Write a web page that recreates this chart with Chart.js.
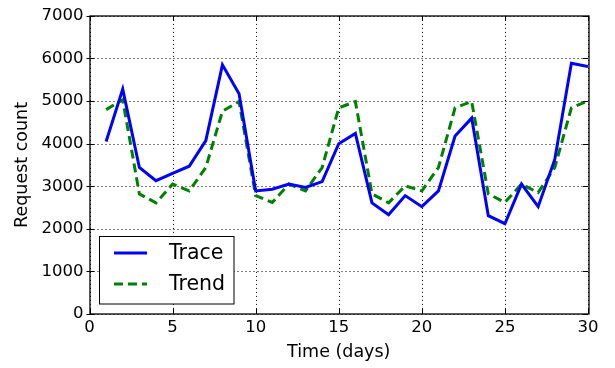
<!DOCTYPE html>
<html>
<head>
<meta charset="utf-8">
<script src="https://cdn.jsdelivr.net/npm/chart.js@4/dist/chart.umd.min.js"></script>
<style>
  html, body { margin: 0; padding: 0; background: #ffffff; }
  #wrap { width: 615px; height: 368px; position: relative; }
</style>
</head>
<body>
<div id="wrap"><canvas id="c" width="615" height="368"></canvas></div>
<script>
const days = [1,2,3,4,5,6,7,8,9,10,11,12,13,14,15,16,17,18,19,20,21,22,23,24,25,26,27,28,29,30];
const traceValues = [4050, 5280, 3440, 3130, 3300, 3470, 4070, 5850, 5170, 2890,
                     2930, 3050, 2970, 3110, 4000, 4240, 2610, 2330, 2780, 2520,
                     2890, 4180, 4600, 2310, 2120, 3050, 2520, 3630, 5890, 5810];
const trendValues = [4800, 5030, 2820, 2610, 3050, 2890, 3440, 4760, 4990, 2780,
                     2620, 3050, 2890, 3440, 4840, 4990, 2820, 2610, 3010, 2890,
                     3440, 4840, 4990, 2820, 2620, 3050, 2850, 3440, 4840, 5010];
const seriesNames = ['Trace', 'Trend'];
const xTitle = 'Time (days)';
const yTitle = 'Request count';

const FONT = "'DejaVu Sans', sans-serif";

const dottedGrid = {
  id: 'dottedGrid',
  beforeDatasetsDraw(chart) {
    const ctx = chart.ctx;
    const a = chart.chartArea;
    const xs = chart.scales.x, ys = chart.scales.y;
    ctx.save();
    ctx.strokeStyle = '#000';
    ctx.lineWidth = 1;
    ctx.setLineDash([1, 3]);
    ctx.beginPath();
    xs.ticks.forEach(t => {
      const px = Math.round(xs.getPixelForValue(t.value)) + 0.5;
      ctx.moveTo(px, a.top); ctx.lineTo(px, a.bottom);
    });
    ys.ticks.forEach(t => {
      const py = Math.round(ys.getPixelForValue(t.value)) + 0.5;
      ctx.moveTo(a.left, py); ctx.lineTo(a.right, py);
    });
    ctx.stroke();
    ctx.restore();
  }
};

const frameAndLegend = {
  id: 'frameAndLegend',
  afterDraw(chart) {
    const ctx = chart.ctx;
    const a = chart.chartArea;
    const xs = chart.scales.x, ys = chart.scales.y;
    ctx.save();
    ctx.strokeStyle = '#000';
    ctx.lineWidth = 1;
    ctx.setLineDash([]);
    ctx.beginPath();
    xs.ticks.forEach(t => {
      const px = Math.round(xs.getPixelForValue(t.value)) + 0.5;
      ctx.moveTo(px, a.bottom); ctx.lineTo(px, a.bottom - 5);
      ctx.moveTo(px, a.top); ctx.lineTo(px, a.top + 5);
    });
    ys.ticks.forEach(t => {
      const py = Math.round(ys.getPixelForValue(t.value)) + 0.5;
      ctx.moveTo(a.left - 3, py); ctx.lineTo(a.left + 5, py);
      ctx.moveTo(a.right, py); ctx.lineTo(a.right - 5, py);
    });
    ctx.stroke();
    ctx.lineWidth = 1.3;
    ctx.strokeRect(Math.round(a.left), Math.round(a.top), Math.round(a.right - a.left), Math.round(a.bottom - a.top));
    // legend
    const bx = 99.5, by = 236.5, bw = 134.5, bh = 67.5;
    ctx.fillStyle = '#fff';
    ctx.fillRect(bx, by, bw, bh);
    ctx.lineWidth = 1;
    ctx.strokeRect(bx, by, bw, bh);
    const rows = [253, 284];
    chart.data.datasets.forEach((ds, i) => {
      const y = rows[i];
      ctx.strokeStyle = ds.borderColor;
      ctx.lineWidth = ds.borderWidth;
      ctx.lineCap = 'butt';
      ctx.setLineDash(ds.borderDash || []);
      ctx.beginPath();
      ctx.moveTo(114, y); ctx.lineTo(147, y);
      ctx.stroke();
      ctx.setLineDash([]);
      ctx.fillStyle = '#000';
      ctx.font = '20.5px ' + FONT;
      ctx.textAlign = 'left';
      ctx.textBaseline = 'middle';
      ctx.fillText(ds.label, 169, y + 1);
    });
    ctx.restore();
  }
};

const ctx = document.getElementById('c').getContext('2d');
new Chart(ctx, {
  type: 'line',
  data: {
    datasets: [
      {
        label: seriesNames[0],
        data: days.map((d, i) => ({ x: d, y: traceValues[i] })),
        borderColor: '#0000ff',
        borderWidth: 3,
        pointRadius: 0,
        tension: 0,
        fill: false
      },
      {
        label: seriesNames[1],
        data: days.map((d, i) => ({ x: d, y: trendValues[i] })),
        borderColor: '#008000',
        borderWidth: 3,
        borderDash: [9, 5],
        pointRadius: 0,
        tension: 0,
        fill: false
      }
    ]
  },
  options: {
    responsive: false,
    animation: false,
    devicePixelRatio: 1,
    layout: { padding: { top: 14, right: 27, left: 0, bottom: 0 } },
    plugins: { legend: { display: false }, tooltip: { enabled: false } },
    scales: {
      x: {
        type: 'linear',
        min: 0, max: 30,
        ticks: { stepSize: 5, color: '#000', font: { family: FONT, size: 16.5 }, padding: 4, maxRotation: 0,
                 callback: v => String(v) },
        grid: { display: false, drawTicks: false },
        border: { display: false },
        title: { display: true, text: xTitle, color: '#000', font: { family: FONT, size: 17.5 }, padding: { top: 0, bottom: 5 } },
        afterFit(s) { s.height = 54; }
      },
      y: {
        type: 'linear',
        min: 0, max: 7000,
        ticks: { stepSize: 1000, color: '#000', font: { family: FONT, size: 16.5 }, padding: 6,
                 callback: v => String(v) },
        grid: { display: false, drawTicks: false },
        border: { display: false },
        title: { display: true, text: yTitle, color: '#000', font: { family: FONT, size: 17.5 }, padding: { top: 12, bottom: 0 } },
        afterFit(s) { s.width = 89.5; }
      }
    }
  },
  plugins: [dottedGrid, frameAndLegend]
});
</script>
</body>
</html>
